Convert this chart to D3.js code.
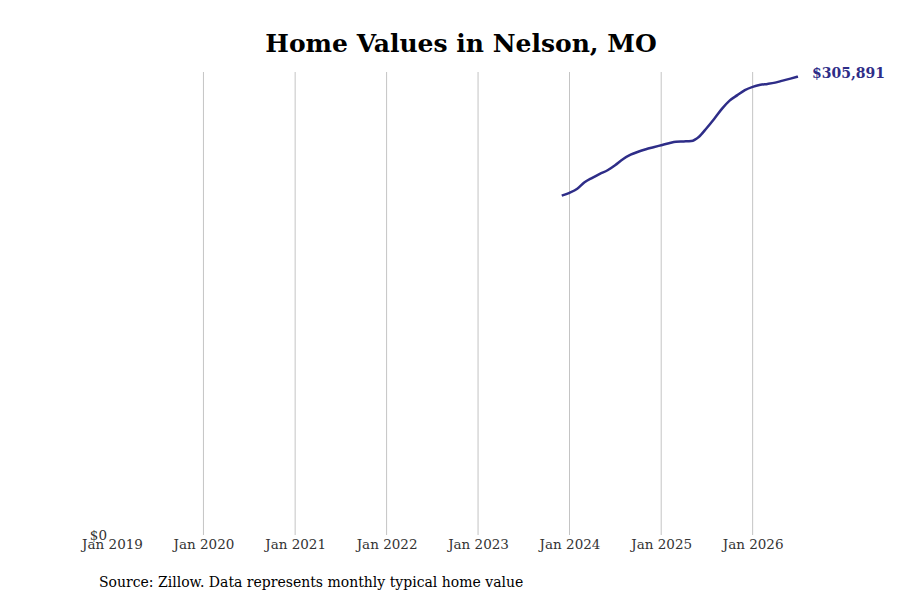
<!DOCTYPE html>
<html>
<head>
<meta charset="utf-8">
<script src="https://cdn.jsdelivr.net/npm/d3@7"></script>
<style>
  body { margin: 0; background: #fff; }
  svg { font-family: 'DejaVu Serif', serif; }
</style>
</head>
<body>
<div id="chart"></div>
<script>
// Typical home value, monthly (Dec 2023 - Jul 2026)
const months = [
  "2023-12", "2024-01", "2024-02", "2024-03", "2024-04", "2024-05", "2024-06", "2024-07",
  "2024-08", "2024-09", "2024-10", "2024-11", "2024-12", "2025-01", "2025-02", "2025-03",
  "2025-04", "2025-05", "2025-06", "2025-07", "2025-08", "2025-09", "2025-10", "2025-11",
  "2025-12", "2026-01", "2026-02", "2026-03", "2026-04", "2026-05", "2026-06", "2026-07"
];
const homeValues = [
  226455, 228327, 231002, 235347, 238356, 241030, 243370, 246713,
  250725, 253734, 255740, 257411, 258748, 260085, 261423, 262426,
  262626, 262894, 265769, 271452, 277804, 284490, 289838, 293515,
  296858, 299065, 300402, 301004, 301873, 303210, 304547, 305891
];
const tickYears = [2019, 2020, 2021, 2022, 2023, 2024, 2025, 2026];

const width = 900, height = 600;
const margin = { top: 72, right: 102, bottom: 65, left: 112 };
const lineColor = "#2e2d88";

const parseMonth = d3.timeParse("%Y-%m");
const data = months.map((m, i) => ({ date: parseMonth(m), value: homeValues[i] }));

const svg = d3.select("#chart").append("svg")
  .attr("width", width)
  .attr("height", height);

const x = d3.scaleTime()
  .domain([new Date(2019, 0, 1), data[data.length - 1].date])
  .range([margin.left, width - margin.right]);

const y = d3.scaleLinear()
  .domain([0, d3.max(homeValues) * 1.01])
  .range([height - margin.bottom, margin.top]);

// titulo
svg.append("text")
  .attr("x", 461).attr("y", 52)
  .attr("text-anchor", "middle")
  .style("font-size", "25px").style("font-weight", "bold").style("fill", "#000")
  .text("Home Values in Nelson, MO");

// lineas verticales de la grilla
const tickDates = tickYears.map(yr => new Date(yr, 0, 1));
svg.append("g").selectAll("line")
  .data(tickDates.slice(1))
  .enter().append("line")
  .attr("x1", d => x(d)).attr("x2", d => x(d))
  .attr("y1", margin.top).attr("y2", height - margin.bottom)
  .attr("stroke", "#c4c4c4").attr("stroke-width", 1);

// eje X
const xAxis = svg.append("g")
  .attr("transform", `translate(0,${height - margin.bottom})`)
  .call(d3.axisBottom(x).tickValues(tickDates).tickFormat(d3.timeFormat("Jan %Y")).tickSize(0).tickPadding(4));
xAxis.select(".domain").remove();
xAxis.selectAll("text")
  .style("font-family", "'DejaVu Serif', serif")
  .style("font-size", "13.5px").style("fill", "#333");

// eje Y (solo $0)
const yAxis = svg.append("g")
  .attr("transform", `translate(${margin.left - 5},0)`)
  .call(d3.axisLeft(y).tickValues([0]).tickFormat(d => "$" + d3.format(",")(d)).tickSize(0).tickPadding(0));
yAxis.select(".domain").remove();
yAxis.selectAll("text")
  .style("font-family", "'DejaVu Serif', serif")
  .style("font-size", "13.5px").style("fill", "#333");

// linea de valores
const line = d3.line()
  .x(d => x(d.date))
  .y(d => y(d.value))
  .curve(d3.curveMonotoneX);

svg.append("path")
  .datum(data)
  .attr("fill", "none")
  .attr("stroke", lineColor)
  .attr("stroke-width", 2.5)
  .attr("d", line);

// etiqueta del ultimo valor
const last = data[data.length - 1];
svg.append("text")
  .attr("x", x(last.date) + 14).attr("y", y(last.value))
  .attr("dy", "0.1em")
  .style("font-size", "14px").style("font-weight", "bold").style("fill", lineColor)
  .text("$" + d3.format(",")(last.value));

// fuente
svg.append("text")
  .attr("x", 99).attr("y", 587)
  .style("font-size", "14px").style("fill", "#000")
  .text("Source: Zillow. Data represents monthly typical home value");
</script>
</body>
</html>
